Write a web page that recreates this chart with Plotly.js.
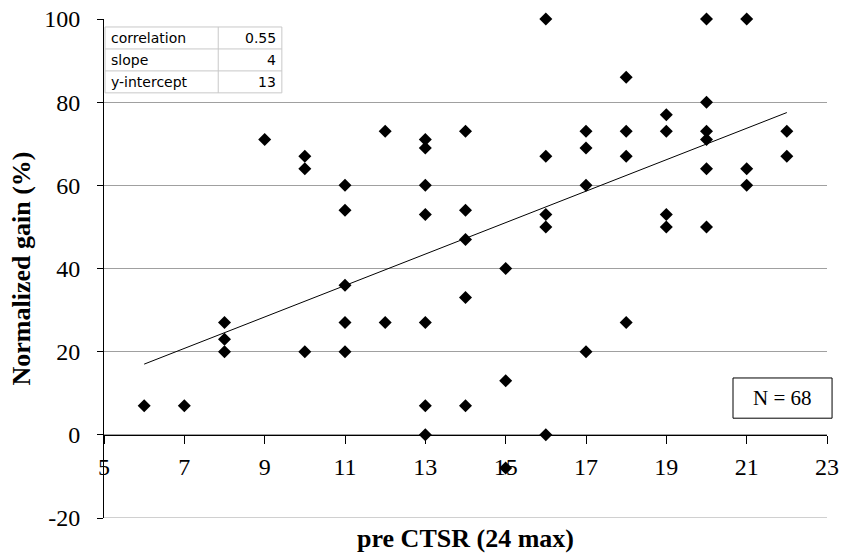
<!DOCTYPE html>
<html>
<head>
<meta charset="utf-8">
<script src="https://cdn.plot.ly/plotly-3.0.1.min.js"></script>
<style>html,body{margin:0;padding:0;background:#fff;}#chart{width:850px;height:553px;}</style>
</head>
<body>
<div id="chart"></div>
<script>
// pre CTSR score (x) and normalized gain % (y)
const preCTSR = [6, 7, 8, 8, 8, 9, 10, 10, 10, 11, 11, 11, 11, 11, 12, 12,
  13, 13, 13, 13, 13, 13, 13, 14, 14, 14, 14, 14, 15, 15, 15,
  16, 16, 16, 16, 16, 17, 17, 17, 17, 18, 18, 18, 18, 19, 19, 19, 19,
  20, 20, 20, 20, 20, 20, 21, 21, 21, 22, 22];
const normGain = [7, 7, 27, 23, 20, 71, 67, 64, 20, 60, 54, 36, 27, 20, 73, 27,
  71, 69, 60, 53, 27, 7, 0, 73, 54, 47, 33, 7, 40, 13, -8,
  100, 67, 53, 50, 0, 73, 69, 60, 20, 86, 73, 67, 27, 77, 73, 53, 50,
  100, 80, 73, 71, 64, 50, 100, 64, 60, 73, 67];
// trend line end points
const trendX = [6, 22];
const trendY = [17, 77.5];
// statistics table
const statLabels = ["correlation", "slope", "y-intercept"];
const statValues = ["0.55", "4", "13"];
const nText = "N = 68";
const xTicks = [5, 7, 9, 11, 13, 15, 17, 19, 21, 23];
const yTicks = [-20, 0, 20, 40, 60, 80, 100];
const yMin = -20, yMax = 100;

const serif = "Liberation Serif";
const traces = [
  {x: trendX, y: trendY, mode: "lines", type: "scatter",
   line: {color: "#000", width: 1}, hoverinfo: "skip", showlegend: false},
  {x: preCTSR, y: normGain, mode: "markers", type: "scatter",
   marker: {symbol: "diamond", size: 10, color: "#000"}, showlegend: false, cliponaxis: false}
];

// table geometry (paper coordinates)
const tx0 = 0.0014, tx1 = 0.246, tmid = 0.158;
const rowEdges = [0.984, 0.940, 0.896, 0.852];
const shapes = [];
const annotations = [];
// bottom gridline at the lower range edge
shapes.push({type: "line", xref: "paper", yref: "y", x0: 0, x1: 1, y0: yMin, y1: yMin,
  line: {color: "#a0a0a0", width: 1}, layer: "below"});
shapes.push({type: "rect", xref: "paper", yref: "paper", x0: tx0, x1: tx1, y0: rowEdges[3], y1: rowEdges[0],
  line: {color: "#c8c8c8", width: 1}, fillcolor: "#fff", layer: "above"});
shapes.push({type: "line", xref: "paper", yref: "paper", x0: tmid, x1: tmid, y0: rowEdges[3], y1: rowEdges[0],
  line: {color: "#c8c8c8", width: 1}, layer: "above"});
for (let i = 1; i < 3; i++) {
  shapes.push({type: "line", xref: "paper", yref: "paper", x0: tx0, x1: tx1, y0: rowEdges[i], y1: rowEdges[i],
    line: {color: "#c8c8c8", width: 1}, layer: "above"});
}
for (let i = 0; i < statLabels.length; i++) {
  const yc = (rowEdges[i] + rowEdges[i + 1]) / 2;
  annotations.push({xref: "paper", yref: "paper", x: tx0 + 0.006, y: yc, xanchor: "left", yanchor: "middle",
    text: statLabels[i], showarrow: false, font: {family: "DejaVu Sans", size: 14, color: "#000"}});
  annotations.push({xref: "paper", yref: "paper", x: tx1 - 0.005, y: yc, xanchor: "right", yanchor: "middle",
    text: statValues[i], showarrow: false, font: {family: "DejaVu Sans", size: 14, color: "#000"}});
}
// N box
shapes.push({type: "rect", xref: "paper", yref: "paper", x0: 0.870, x1: 1.007, y0: 0.200, y1: 0.2806,
  line: {color: "#000", width: 1}, fillcolor: "#fff", layer: "above"});
annotations.push({xref: "paper", yref: "paper", x: 0.938, y: 0.2405, xanchor: "center", yanchor: "middle",
  text: nText, showarrow: false, font: {family: serif, size: 21, color: "#000"}});

const layout = {
  width: 850, height: 553,
  margin: {l: 104, r: 23, t: 19, b: 35},
  paper_bgcolor: "#fff", plot_bgcolor: "#fff",
  font: {family: serif, color: "#000"},
  xaxis: {
    range: [5, 23], tickvals: xTicks, ticktext: xTicks.map(String),
    anchor: "free", position: (0 - yMin) / (yMax - yMin),
    showgrid: false, zeroline: false, showline: true, linecolor: "#000", linewidth: 1,
    ticks: "outside", ticklen: 8, tickcolor: "#000",
    ticklabelstandoff: 2,
    tickfont: {family: serif, size: 24, color: "#000"},
    title: {text: "pre CTSR (24 max)", font: {family: serif, size: 26, color: "#000", weight: "bold"}, standoff: 50}
  },
  yaxis: {
    range: [yMin, yMax], tickvals: yTicks, ticktext: yTicks.map(String),
    showgrid: true, gridcolor: "#a0a0a0", gridwidth: 1, zeroline: false,
    showline: true, linecolor: "#000", linewidth: 1,
    ticks: "outside", ticklen: 6, tickcolor: "#000",
    ticklabelstandoff: 12,
    tickfont: {family: serif, size: 24, color: "#000"},
    title: {text: "Normalized gain (%)", font: {family: serif, size: 26, color: "#000", weight: "bold"}, standoff: 6}
  },
  shapes: shapes,
  annotations: annotations,
  showlegend: false
};
Plotly.newPlot("chart", traces, layout, {displayModeBar: false, staticPlot: true});
</script>
</body>
</html>
